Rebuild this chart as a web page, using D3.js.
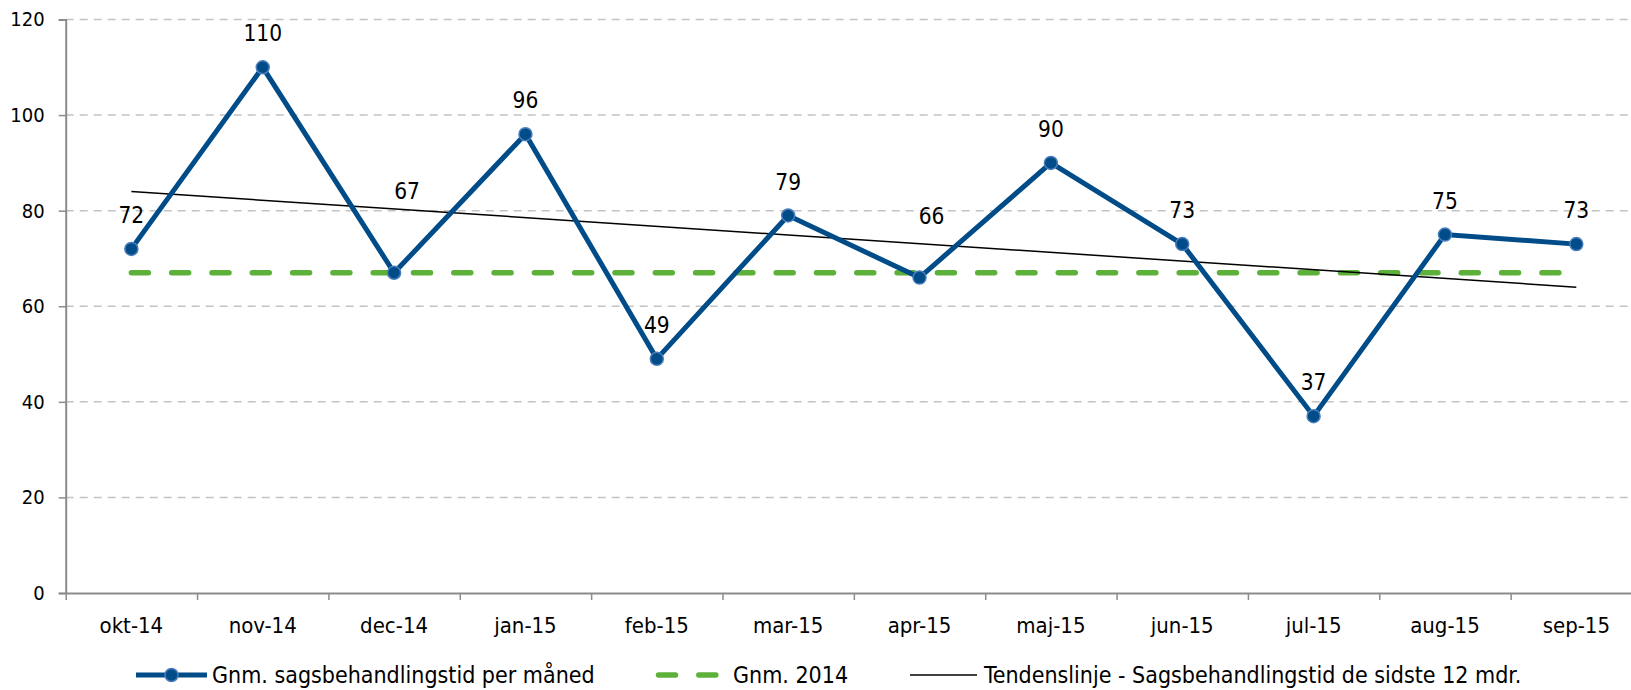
<!DOCTYPE html>
<html>
<head>
<meta charset="utf-8">
<script src="https://cdn.jsdelivr.net/npm/d3@7"></script>
<style>
  html, body { margin: 0; padding: 0; background: #fff; }
  svg { display: block; }
  text { font-family: "DejaVu Sans Condensed", "DejaVu Sans", sans-serif; fill: #000; }
</style>
</head>
<body>
<svg id="chart" width="1631" height="690"></svg>
<script>
// ---- data ----
const categories = ["okt-14","nov-14","dec-14","jan-15","feb-15","mar-15","apr-15","maj-15","jun-15","jul-15","aug-15","sep-15"];
const monthlyValues = [72, 110, 67, 96, 49, 79, 66, 90, 73, 37, 75, 73];
const avg2014 = [67, 67, 67, 67, 67, 67, 67, 67, 67, 67, 67, 67];
const trendValues = [84, 64]; // first and last month of the trend line
const yTicks = [0, 20, 40, 60, 80, 100, 120];
const seriesNames = ["Gnm. sagsbehandlingstid per måned", "Gnm. 2014", "Tendenslinje - Sagsbehandlingstid de sidste 12 mdr."];

// ---- layout ----
const plotLeft = 65.7, plotRight = 1642, plotTop = 19.5, plotBottom = 593;
const blue = "#004c88", blueLight = "#4a7ebb", green = "#5db13b";
const yAxisFont = 20, xAxisFont = 22, labelFont = 22.5, legendFont = 23;
// manual data-label offsets (dx, dy above point) for labels moved in the original
const labelOffset = { "dec-14": [13, 82], "apr-15": [12, 62] };

const svg = d3.select("#chart");

const x = d3.scaleBand().domain(categories).range([plotLeft, plotRight]).paddingInner(0).paddingOuter(0);
const cx = d => x(d) + x.bandwidth() / 2;
const y = d3.scaleLinear().domain([0, 120]).range([plotBottom, plotTop]);

// gridlines
svg.append("g").selectAll("line").data(yTicks.filter(t => t > 0)).join("line")
  .attr("x1", plotLeft).attr("x2", plotRight)
  .attr("y1", d => y(d)).attr("y2", d => y(d))
  .attr("stroke", "#c3c3c3").attr("stroke-width", 1.5).attr("stroke-dasharray", "8,6");

// y axis
const yAxis = svg.append("g").attr("transform", `translate(${plotLeft},0)`)
  .call(d3.axisLeft(y).tickValues(yTicks).tickSize(7).tickPadding(14));
yAxis.attr("font-family", null);
yAxis.select(".domain").attr("stroke", "#8c8c8c").attr("stroke-width", 2);
yAxis.selectAll(".tick line").attr("stroke", "#8c8c8c").attr("stroke-width", 1.5);
yAxis.selectAll(".tick text").style("font-size", yAxisFont + "px").attr("fill", "#000");

// x axis: labels at centers, ticks at boundaries
const xAxis = svg.append("g").attr("transform", `translate(0,${plotBottom})`)
  .call(d3.axisBottom(x).tickSize(0).tickPadding(24));
xAxis.attr("font-family", null);
xAxis.select(".domain").remove();
xAxis.selectAll(".tick text").style("font-size", xAxisFont + "px").attr("fill", "#000");
const xb = d3.scaleLinear().domain([0, categories.length]).range([plotLeft, plotRight]);
const xTicks = svg.append("g").attr("transform", `translate(0,${plotBottom})`)
  .call(d3.axisBottom(xb).tickValues(d3.range(categories.length + 1)).tickFormat("").tickSize(7).tickSizeOuter(0));
xTicks.select(".domain").attr("stroke", "#8c8c8c").attr("stroke-width", 2);
xTicks.selectAll(".tick line").attr("stroke", "#8c8c8c").attr("stroke-width", 1.5);

// average 2014 (green dashed)
const line = d3.line().x((d, i) => cx(categories[i])).y(d => y(d));
svg.append("path").datum(avg2014).attr("d", line)
  .attr("fill", "none").attr("stroke", green).attr("stroke-width", 5.5)
  .attr("stroke-linecap", "round").attr("stroke-dasharray", "17,23.3");

// trend line
const trendX = [cx(categories[0]), cx(categories[categories.length - 1])];
svg.append("line")
  .attr("x1", trendX[0]).attr("x2", trendX[1])
  .attr("y1", y(trendValues[0])).attr("y2", y(trendValues[1]))
  .attr("stroke", "#000").attr("stroke-width", 1.5);

// monthly series
svg.append("path").datum(monthlyValues).attr("d", line)
  .attr("fill", "none").attr("stroke", blue).attr("stroke-width", 5).attr("stroke-linejoin", "miter");
svg.append("g").selectAll("circle").data(monthlyValues).join("circle")
  .attr("cx", (d, i) => cx(categories[i])).attr("cy", d => y(d)).attr("r", 6.5)
  .attr("fill", blue).attr("stroke", blueLight).attr("stroke-width", 1.5);

// data labels
svg.append("g").selectAll("text").data(monthlyValues).join("text")
  .attr("x", (d, i) => cx(categories[i]) + (labelOffset[categories[i]] ? labelOffset[categories[i]][0] : 0))
  .attr("y", (d, i) => y(d) - (labelOffset[categories[i]] ? labelOffset[categories[i]][1] : 34))
  .attr("dy", "0.36em").attr("text-anchor", "middle")
  .style("font-size", labelFont + "px").text(d => d);

// legend
const ly = 675;
const lg = svg.append("g");
lg.append("line").attr("x1", 136).attr("x2", 207).attr("y1", ly).attr("y2", ly)
  .attr("stroke", blue).attr("stroke-width", 5);
lg.append("circle").attr("cx", 171.5).attr("cy", ly).attr("r", 6.5)
  .attr("fill", blue).attr("stroke", blueLight).attr("stroke-width", 1.5);
lg.append("text").attr("x", 212).attr("y", ly).attr("dy", "0.36em")
  .style("font-size", legendFont + "px").text(seriesNames[0]);
lg.append("line").attr("x1", 658.5).attr("x2", 717.5).attr("y1", ly).attr("y2", ly)
  .attr("stroke", green).attr("stroke-width", 5.5).attr("stroke-linecap", "round")
  .attr("stroke-dasharray", "17,23.3");
lg.append("text").attr("x", 733).attr("y", ly).attr("dy", "0.36em")
  .style("font-size", legendFont + "px").text(seriesNames[1]);
lg.append("line").attr("x1", 910).attr("x2", 977).attr("y1", ly).attr("y2", ly)
  .attr("stroke", "#000").attr("stroke-width", 1.5);
lg.append("text").attr("x", 984).attr("y", ly).attr("dy", "0.36em")
  .style("font-size", legendFont + "px").text(seriesNames[2]);
</script>
</body>
</html>
